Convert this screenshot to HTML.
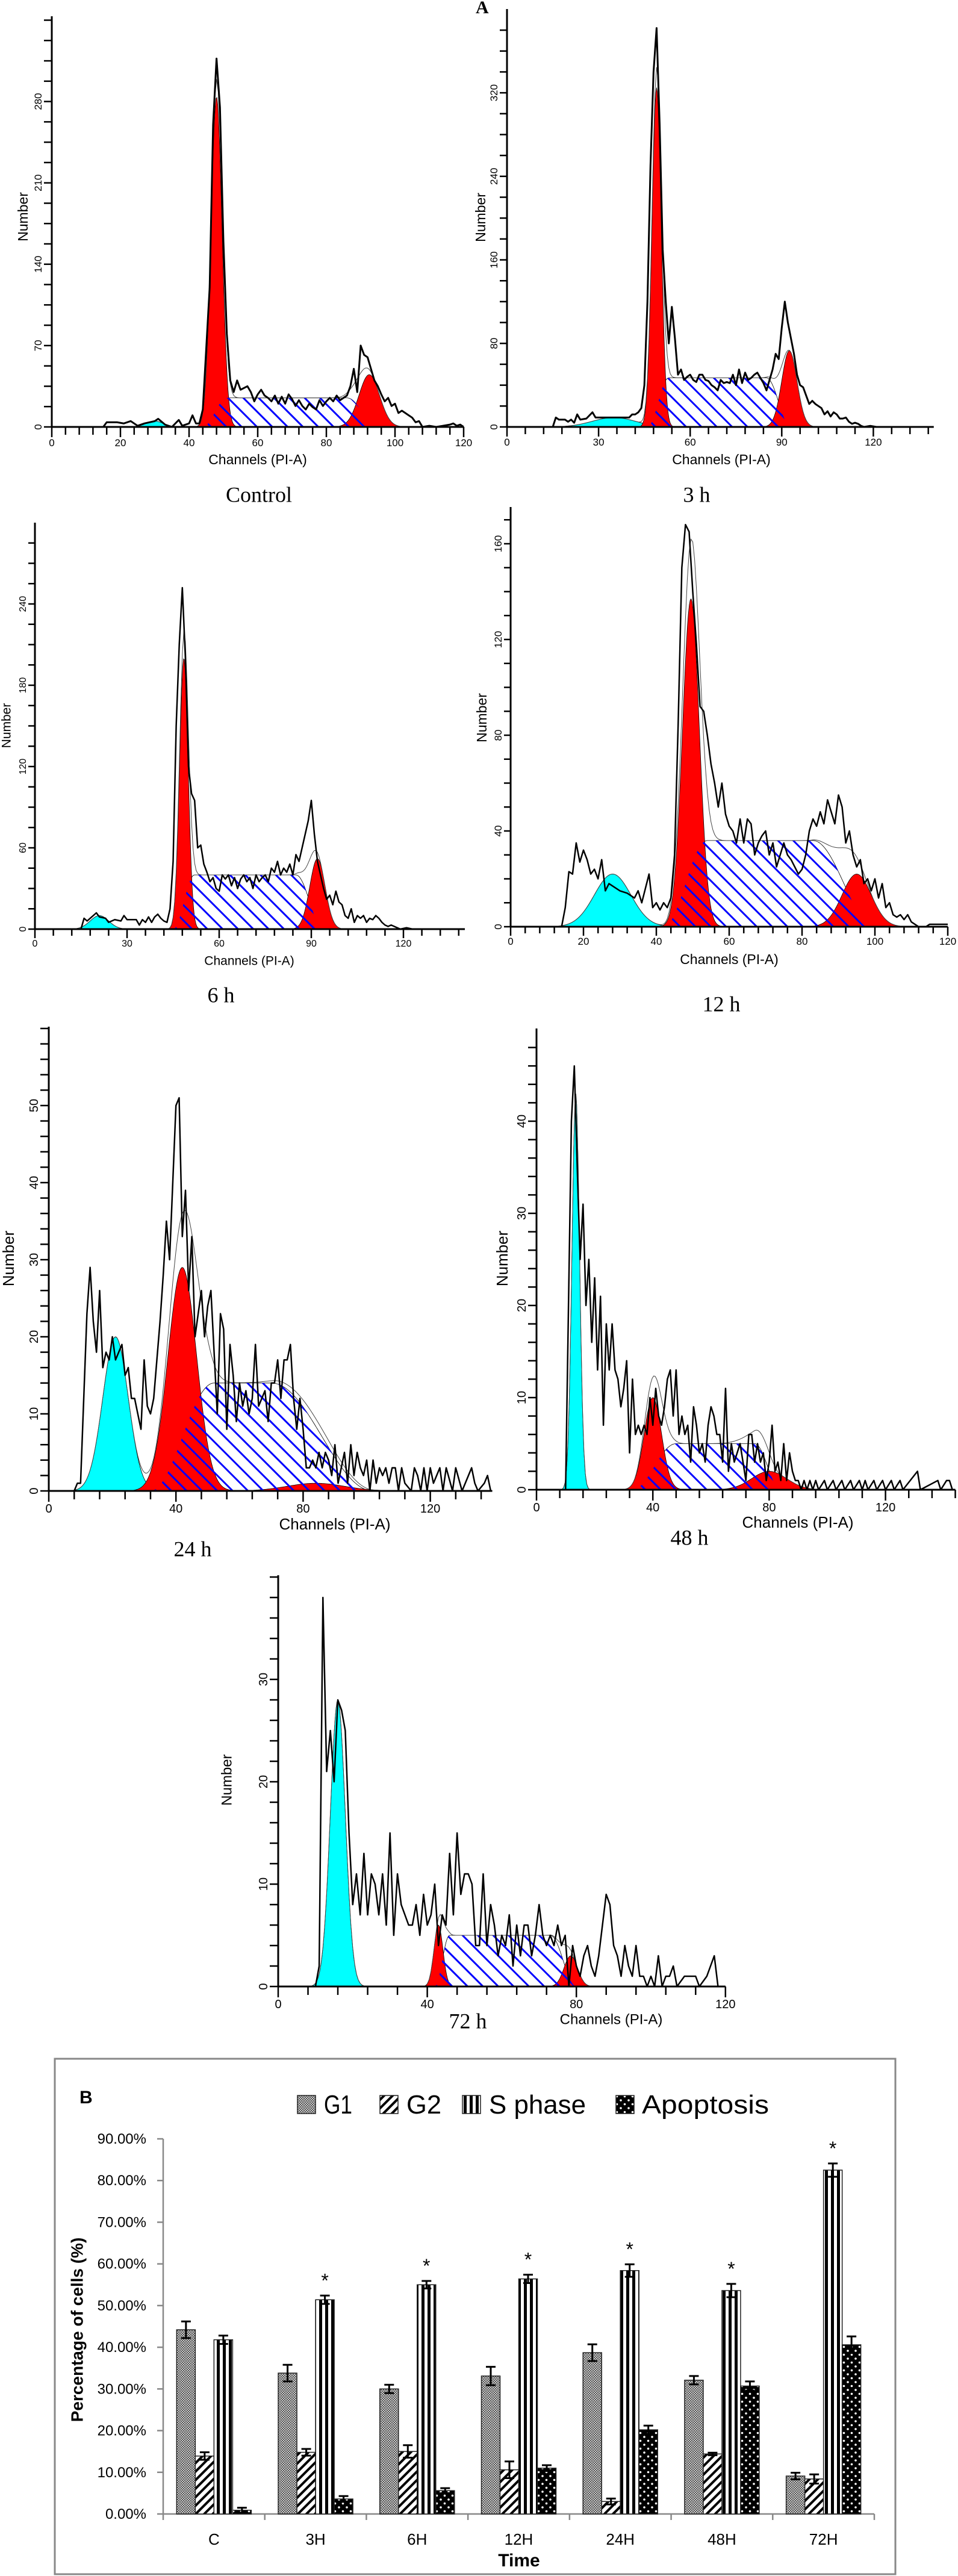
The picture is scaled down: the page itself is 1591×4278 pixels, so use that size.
<!DOCTYPE html>
<html><head><meta charset="utf-8"><style>
html,body{margin:0;padding:0;background:#fff}
svg{display:block}
</style></head><body>
<svg id="fig" xmlns="http://www.w3.org/2000/svg" width="1591" height="4278" viewBox="0 0 1591 4278">
<defs>
<pattern id="hatch" patternUnits="userSpaceOnUse" width="18" height="18" patternTransform="rotate(45)"><rect x="0" y="0" width="18" height="3" fill="#0000ff"/></pattern>
<pattern id="pG1" patternUnits="userSpaceOnUse" width="4" height="4"><rect width="4" height="4" fill="#c8c8c8"/><rect width="2" height="2" fill="#555"/><rect x="2" y="2" width="2" height="2" fill="#555"/></pattern>
<pattern id="pG2" patternUnits="userSpaceOnUse" width="10" height="10" patternTransform="rotate(45)"><rect width="10" height="10" fill="#fff"/><rect width="4" height="10" fill="#000"/></pattern>
<pattern id="pS" patternUnits="userSpaceOnUse" width="10" height="10"><rect width="10" height="10" fill="#fff"/><rect width="5" height="10" fill="#000"/></pattern>
<pattern id="pA" patternUnits="userSpaceOnUse" width="13" height="13"><rect width="13" height="13" fill="#000"/><circle cx="4" cy="4" r="1.8" fill="#fff"/><circle cx="10.5" cy="10.5" r="1.8" fill="#fff"/></pattern>
</defs>
<text x="790" y="22" font-family="Liberation Serif, serif" font-weight="bold" font-size="30">A</text>
</svg>
<script>
// ---------- Histogram data (channel, count) ----------
const ctrlLine=[[15,0],[16,4],[19,4],[21,3],[23,5],[25,1],[27,3],[30,5],[31,7],[33,2],[35,0],[37,6],[38,1],[40,3],[41,10],[42,3],[43,3],[44,15],[46,120],[47,260],[48,317],[49,275],[50,160],[51,80],[52,40],[53,30],[54,40],[55,32],[57,35],[58,30],[59,22],[60,28],[61,32],[62,27],[63,25],[64,22],[65,27],[66,20],[67,26],[68,20],[69,28],[70,24],[71,18],[72,23],[73,18],[74,15],[75,20],[76,17],[77,15],[78,23],[79,18],[80,22],[81,25],[82,22],[83,27],[84,23],[85,25],[86,27],[87,35],[88,50],[89,30],[90,70],[91,62],[92,60],[93,50],[94,40],[95,35],[96,28],[97,22],[98,25],[99,18],[100,20],[101,12],[102,14],[103,12],[104,10],[105,8],[106,4],[107,5],[108,0],[110,1],[112,0],[114,1],[116,2],[117,3],[118,1],[119,2],[120,0]];
const h3Line=[[15,0],[16,9],[17,7],[19,7],[20,5],[21,7],[22,4],[23,12],[24,7],[26,8],[28,14],[29,9],[31,9],[35,9],[40,9],[41,12],[42,12],[43,14],[44,18],[45,40],[46,120],[47,250],[48,340],[49,382],[50,290],[51,170],[52,120],[53,80],[54,115],[55,85],[56,50],[57,55],[58,45],[59,48],[60,50],[61,45],[62,43],[63,50],[64,50],[65,45],[66,44],[67,40],[68,38],[69,35],[70,45],[71,42],[72,43],[73,42],[74,50],[75,40],[76,55],[77,42],[78,52],[79,45],[80,47],[81,50],[82,52],[83,47],[84,42],[85,35],[86,45],[87,55],[88,70],[89,65],[90,95],[91,120],[92,100],[93,85],[94,70],[95,50],[96,40],[97,38],[98,30],[99,22],[100,25],[101,22],[102,20],[103,18],[104,12],[105,15],[106,10],[107,14],[108,12],[109,8],[110,8],[111,9],[112,5],[113,3],[114,4],[115,3],[116,1],[117,0],[119,1],[121,0]];
const h6Line=[[15,0],[16,8],[17,6],[19,10],[20,12],[21,9],[23,8],[24,5],[26,7],[28,6],[29,10],[30,7],[31,7],[33,7],[34,3],[35,7],[36,5],[37,9],[38,5],[39,9],[40,11],[41,8],[42,6],[43,5],[44,15],[45,50],[46,150],[47,210],[48,252],[49,200],[50,120],[51,100],[52,95],[53,60],[54,62],[55,48],[56,42],[57,35],[58,38],[59,30],[60,28],[61,40],[62,37],[63,40],[64,32],[65,38],[66,30],[67,37],[68,40],[69,35],[70,38],[71,30],[72,40],[73,35],[74,38],[75,40],[76,35],[77,45],[78,42],[79,50],[80,40],[81,45],[82,42],[83,48],[84,40],[85,55],[86,50],[87,60],[88,70],[89,80],[90,95],[91,70],[92,50],[93,40],[94,30],[95,22],[96,25],[97,18],[98,28],[99,20],[100,18],[101,10],[102,8],[103,15],[104,5],[105,10],[106,8],[107,10],[108,5],[109,8],[110,7],[111,10],[112,8],[113,5],[114,3],[115,2],[116,3],[117,2],[118,1],[119,0],[121,1],[123,0]];
const h12Line=[[10,0],[14,0],[15,8],[16,23],[17,22],[18,35],[19,27],[20,32],[21,28],[22,22],[23,24],[24,20],[25,28],[26,15],[27,18],[28,17],[30,15],[32,14],[34,12],[35,15],[36,10],[37,16],[38,22],[39,8],[40,10],[41,7],[42,10],[43,8],[44,12],[45,30],[46,85],[47,150],[48,168],[49,165],[50,140],[51,118],[52,92],[53,90],[54,80],[55,68],[56,60],[57,50],[58,60],[59,47],[60,42],[61,40],[62,35],[63,45],[64,35],[65,45],[66,43],[67,30],[68,35],[69,38],[70,40],[71,30],[72,35],[73,25],[74,30],[75,35],[76,30],[77,28],[78,25],[79,22],[80,24],[81,30],[82,40],[83,45],[84,42],[85,48],[86,43],[87,53],[88,48],[89,43],[90,55],[91,50],[92,35],[93,40],[94,30],[95,25],[96,28],[97,18],[98,20],[99,15],[100,20],[101,12],[102,18],[103,8],[104,10],[105,5],[106,4],[107,5],[108,3],[109,5],[110,2],[111,1],[112,0],[114,0],[115,1],[120,1]];
const h24Line=[[0,0],[8,0],[9,1],[10,1],[12,23],[13,29],[14,22],[15,18],[16,26],[17,16],[18,18],[19,17],[20,20],[21,17],[22,18],[23,19],[24,15],[25,16],[26,12],[27,12],[28,10],[29,8],[30,17],[31,11],[32,10],[33,12],[34,17],[35,22],[36,28],[37,35],[38,30],[39,40],[40,50],[41,51],[42,33],[43,39],[44,26],[45,33],[46,20],[47,23],[48,26],[49,20],[50,24],[51,26],[52,18],[53,10],[54,23],[55,21],[56,8],[57,19],[58,15],[59,9],[60,14],[61,11],[62,13],[63,10],[64,12],[65,19],[66,11],[67,12],[68,13],[69,9],[70,14],[71,14],[72,17],[73,12],[74,17],[75,17],[76,19],[77,12],[78,8],[79,12],[80,8],[81,3],[82,3],[83,4],[84,3],[85,5],[86,3],[87,5],[88,4],[89,2],[90,6],[91,1],[92,3],[93,5],[94,1],[95,6],[96,2],[97,5],[98,3],[99,2],[100,4],[101,0],[102,4],[103,1],[104,3],[105,2],[106,3],[107,1],[108,3],[109,3],[110,0],[111,3],[112,1],[114,0],[115,3],[116,2],[117,0],[118,3],[119,0],[120,3],[121,1],[123,3],[124,0],[125,3],[127,0],[128,3],[130,0],[133,3],[134,1],[135,0],[137,1],[138,2],[139,0]];
const h48Line=[[0,0],[10,0],[11,20],[12,40],[13,46],[14,35],[15,25],[16,31],[17,20],[18,25],[19,16],[20,23],[21,13],[22,21],[23,7],[24,18],[25,13],[26,18],[27,13],[28,12],[29,9],[30,11],[31,14],[32,4],[33,12],[34,6],[35,7],[36,6],[37,7],[38,6],[39,10],[40,7],[41,11],[42,8],[43,7],[44,9],[45,12],[46,13],[47,8],[48,13],[49,6],[50,8],[51,6],[52,7],[53,3],[54,9],[55,7],[56,4],[57,5],[58,3],[59,7],[60,9],[61,8],[62,6],[63,6],[64,3],[65,11],[66,2],[67,5],[68,3],[69,4],[70,5],[71,3],[72,1],[73,6],[74,6],[75,3],[76,5],[77,3],[78,4],[79,1],[80,3],[81,7],[82,2],[83,3],[84,1],[85,5],[86,1],[87,4],[88,2],[89,1],[90,1],[91,0],[92,1],[93,0],[94,1],[95,0],[96,1],[97,0],[99,1],[100,0],[102,1],[103,0],[105,1],[106,0],[108,1],[109,0],[111,1],[112,0],[113,1],[114,0],[116,1],[117,0],[119,1],[120,0],[122,1],[123,0],[125,1],[126,0],[131,2],[132,0],[138,1],[139,0],[141,1],[142,1],[143,0]];
const h72Line=[[10,0],[11,2],[12,38],[13,21],[14,25],[15,20],[16,28],[17,27],[18,25],[19,15],[20,8],[21,11],[22,7],[23,13],[24,7],[25,11],[26,10],[27,7],[28,11],[29,6],[30,15],[31,5],[32,11],[33,8],[34,7],[35,6],[36,6],[37,8],[38,5],[39,9],[40,6],[41,7],[42,10],[43,4],[44,7],[45,6],[46,13],[47,7],[48,15],[49,9],[50,11],[51,11],[52,10],[53,4],[54,4],[55,11],[56,4],[57,8],[58,6],[59,3],[60,5],[61,4],[62,7],[63,2],[64,6],[65,3],[66,6],[67,6],[68,3],[69,5],[70,8],[71,5],[72,4],[73,5],[74,4],[75,6],[76,4],[77,5],[78,0],[79,4],[80,2],[81,1],[82,3],[83,4],[84,2],[85,1],[86,3],[87,6],[88,9],[89,8],[90,4],[91,3],[92,1],[93,4],[94,2],[95,1],[96,4],[97,1],[98,1],[99,0],[100,1],[101,0],[102,3],[103,0],[104,1],[105,1],[106,2],[107,0],[109,1],[112,1],[113,0],[115,1],[116,2],[117,3],[118,0]];
// components: apoptosis [mu, sd, height], G1 [mu, sd, height], S [start, plateauStart, plateauEnd, end, height], G2 [mu, sd, height]
const ctrlApo=[30,2.5,5], ctrlG1=[48,1.6,284], ctrlS=[44,51,86,95,25], ctrlG2=[92.5,3,45];
const h3Apo=[35,7,9], h3G1=[49,1.5,325], h3S=[46,53,85,93,47], h3G2=[92.5,2.5,73];
const h6Apo=[21,3,10], h6G1=[48.5,1.4,200], h6S=[45,52,85,94,40], h6G2=[92,2.5,52];
const h12Apo=[28,5,22], h12G1=[49.5,2.3,137], h12S=[42,54,83,100,36], h12G2=[95,4,22];
const h24Apo=[21,4,20], h24G1=[42,4.5,29], h24S=[32,52,70,102,14], h24G2=[84,9,1];
const h48Apo=[13.5,1.3,43], h48G1=[40,3,10], h48S=[33,48,75,84,5], h48G2=[80,6,2];
const h72Apo=[16,2,28], h72G1=[43,1.2,6], h72S=[42,46,73,80,5], h72G2=[78.5,1.8,3];

// ---------- Bar chart data ----------
const categories=["C","3H","6H","12H","24H","48H","72H"];
const seriesNames=["G1","G2","S phase","Apoptosis"];
const g1Vals=[44.2,33.8,30.0,33.1,38.7,32.1,9.1];
const g2Vals=[13.9,14.8,15.0,10.6,3.0,14.4,8.4];
const sVals=[41.8,51.4,55.0,56.4,58.4,53.6,82.5];
const apoVals=[0.9,3.6,5.6,11.0,20.2,30.7,40.6];
const g1Err=[2.0,2.0,1.0,2.2,2.0,1.0,0.8];
const g2Err=[0.9,0.8,1.5,2.0,0.7,0.3,1.1];
const sErr=[1.0,1.0,0.9,1.0,1.5,1.6,1.6];
const apoErr=[0.6,0.7,0.6,0.7,1.0,1.1,2.0];
const starred=[false,true,true,true,true,true,true];
const yTickVals=[0,10,20,30,40,50,60,70,80,90];

const NS="http://www.w3.org/2000/svg";
const svg=document.getElementById('fig');
function mk(tag,attrs,parent){const e=document.createElementNS(NS,tag);for(const k in attrs)e.setAttribute(k,attrs[k]);(parent||svg).appendChild(e);return e;}

function gauss(p,c){return p[2]*Math.exp(-((c-p[0])**2)/(2*p[1]*p[1]));}
function sVal(p,c){if(c<=p[0]||c>=p[3])return 0;if(c<p[1]){const t=(c-p[0])/(p[1]-p[0]);return p[4]*(0.5-0.5*Math.cos(Math.PI*t));}if(c<=p[2])return p[4];const t=(c-p[2])/(p[3]-p[2]);return p[4]*(0.5+0.5*Math.cos(Math.PI*t));}

function histogram(cfg,line,apo,g1,s,g2){
  const g=mk('g',{});
  
  
  const X=c=>cfg.ox+c*cfg.sx, Y=v=>cfg.oy-v*cfg.sy;
  function gPoly(p,fill,nm){let pts=[];const a=Math.max(0,p[0]-4*p[1]),b=p[0]+4*p[1];pts.push(X(a)+','+Y(0));for(let c=a;c<=b;c+=0.25)pts.push(X(c)+','+Y(gauss(p,c)));pts.push(X(b)+','+Y(0));const e=mk('polygon',{points:pts.join(' '),fill:fill,stroke:'#000','stroke-width':0.8},g);return e;}
  function sPts(){let pts=[];for(let c=s[0];c<=s[3];c+=0.25)pts.push(X(c)+','+Y(sVal(s,c)));return pts.join(' ');}
  gPoly(apo,'#00ffff','apoptosis-peak');
  const sw=mk('polygon',{points:sPts(),fill:'#fff',stroke:'#000','stroke-width':0.8},g);
  
  
  gPoly(g1,'#ff0000','g1-peak');
  gPoly(g2,'#ff0000','g2-peak');
  const sh=mk('polygon',{points:sPts(),fill:'url(#hatch)',stroke:'none'},g);
  
  
  // model fit line
  let mp=[];for(let c=Math.max(0,apo[0]-4*apo[1]);c<=g2[0]+4*g2[1];c+=0.5){mp.push(X(c)+','+Y(gauss(apo,c)+gauss(g1,c)+sVal(s,c)+gauss(g2,c)));}
  const ml=mk('polyline',{points:mp.join(' '),fill:'none',stroke:'#444','stroke-width':1},g);
  
  
  const dl=mk('polyline',{points:line.filter(p=>p[0]<=cfg.xEnd).map(p=>X(p[0])+','+Y(p[1])).join(' '),fill:'none',stroke:'#000','stroke-width':cfg.lw,'stroke-linejoin':'round'},g);
  
  
  // axes
  const xa=mk('line',{x1:cfg.ox,y1:cfg.oy,x2:X(cfg.xEnd),y2:cfg.oy,stroke:'#000','stroke-width':3},g);
  
  
  const ya=mk('line',{x1:cfg.ox,y1:cfg.oy,x2:cfg.ox,y2:cfg.yTop,stroke:'#000','stroke-width':3},g);
  
  
  for(let c=0;c<=cfg.xEnd+0.01;c+=cfg.xMinor){mk('line',{x1:X(c),y1:cfg.oy,x2:X(c),y2:cfg.oy+(cfg.xLabels.includes(c)?cfg.tk+4:cfg.tk),stroke:'#000','stroke-width':2.5},g);}
  cfg.xLabels.forEach(c=>{const t=mk('text',{x:X(c),y:cfg.oy+cfg.tk+cfg.fs+2,'text-anchor':'middle','font-family':'Liberation Sans, sans-serif','font-size':cfg.fs},g);t.textContent=c;});
  for(let v=0;Y(v)>=cfg.yTop+2;v+=cfg.yMinor){mk('line',{x1:cfg.ox-cfg.tk,y1:Y(v),x2:cfg.ox,y2:Y(v),stroke:'#000','stroke-width':2.5},g);}
  cfg.yLabels.forEach(v=>{const x=cfg.ox-cfg.tk-4,y=Y(v);const t=mk('text',{x:x,y:y,'text-anchor':'middle','font-family':'Liberation Sans, sans-serif','font-size':cfg.fs,transform:`rotate(-90 ${x} ${y})`},g);t.textContent=v;});
  const nl=mk('text',{x:cfg.num[0],y:cfg.num[1],'text-anchor':'middle','font-family':'Liberation Sans, sans-serif','font-size':cfg.lfs,transform:`rotate(-90 ${cfg.num[0]} ${cfg.num[1]})`,'dominant-baseline':'middle'},g);
  nl.textContent='Number';
  
  
  const cl=mk('text',{x:cfg.ch[0],y:cfg.ch[1],'text-anchor':'middle','font-family':'Liberation Sans, sans-serif','font-size':cfg.lfs,'dominant-baseline':'middle'},g);
  cl.textContent='Channels (PI-A)';
  
  
  const pl=mk('text',{x:cfg.lab[0],y:cfg.lab[1],'text-anchor':'middle','font-family':'Liberation Serif, serif','font-size':36,'dominant-baseline':'middle'},g);
  pl.textContent=cfg.label;
  
  
}

histogram({name:'histogram-control',ox:86,oy:709,sx:5.7,sy:1.93,xEnd:120,yTop:27,xLabels:[0,20,40,60,80,100,120],xMinor:4,yLabels:[0,70,140,210,280],yMinor:17.5,fs:17,lfs:23,tk:13,lw:3,num:[40,360],ch:[428,765],lab:[430,825],label:'Control'},ctrlLine,ctrlApo,ctrlG1,ctrlS,ctrlG2);
histogram({name:'histogram-3h',ox:842,oy:709,sx:5.07,sy:1.734,xEnd:139.8,yTop:15,xLabels:[0,30,60,90,120],xMinor:6,yLabels:[0,80,160,240,320],yMinor:20,fs:17,lfs:23,tk:12,lw:3,num:[800,361],ch:[1198,765],lab:[1157,825],label:'3 h'},h3Line,h3Apo,h3G1,h3S,h3G2);
histogram({name:'histogram-6h',ox:58,oy:1543,sx:5.1,sy:2.25,xEnd:140,yTop:868,xLabels:[0,30,60,90,120],xMinor:6,yLabels:[0,60,120,180,240],yMinor:15,fs:16,lfs:21,tk:11,lw:2.5,num:[12,1205],ch:[414,1597],lab:[367,1656],label:'6 h'},h6Line,h6Apo,h6G1,h6S,h6G2);
histogram({name:'histogram-12h',ox:848,oy:1539,sx:6.05,sy:3.975,xEnd:120,yTop:842,xLabels:[0,20,40,60,80,100,120],xMinor:4,yLabels:[0,40,80,120,160],yMinor:10,fs:17,lfs:23,tk:11,lw:2.5,num:[802,1192],ch:[1211,1595],lab:[1198,1671],label:'12 h'},h12Line,h12Apo,h12G1,h12S,h12G2);
histogram({name:'histogram-24h',ox:81,oy:2476,sx:5.28,sy:12.8,xEnd:139.5,yTop:1705,xLabels:[0,40,80,120],xMinor:8,yLabels:[0,10,20,30,40,50],yMinor:2,fs:20,lfs:26,tk:14,lw:2.5,num:[16,2090],ch:[556,2533],lab:[320,2576],label:'24 h'},h24Line,h24Apo,h24G1,h24S,h24G2);
histogram({name:'histogram-48h',ox:891,oy:2474,sx:4.83,sy:15.3,xEnd:144,yTop:1708,xLabels:[0,40,80,120],xMinor:8,yLabels:[0,10,20,30,40],yMinor:2,fs:20,lfs:26,tk:14,lw:2.5,num:[836,2090],ch:[1325,2530],lab:[1145,2557],label:'48 h'},h48Line,h48Apo,h48G1,h48S,h48G2);
histogram({name:'histogram-72h',ox:462,oy:3299,sx:6.19,sy:17,xEnd:120,yTop:2616,xLabels:[0,40,80,120],xMinor:8,yLabels:[0,10,20,30],yMinor:2,fs:20,lfs:24,tk:14,lw:2.5,num:[378,2956],ch:[1015,3355],lab:[777,3360],label:'72 h'},h72Line,h72Apo,h72G1,h72S,h72G2);

// ---------- Bar chart ----------
(function(){
  const g=mk('g',{});
  
  
  const box=mk('rect',{x:91,y:3419,width:1396,height:856,fill:'#fff',stroke:'#888','stroke-width':3},g);
  
  
  const ax0=271, ax1=1452, y0=4175, ppu=6.922;
  const Y=v=>y0-v*ppu;
  const catW=(ax1-ax0)/categories.length;
  const CX=i=>ax0+catW*(i+0.5);
  const bl=mk('text',{x:132,y:3493,'font-family':'Liberation Sans, sans-serif','font-weight':'bold','font-size':30},g);
  bl.textContent='B';
  
  
  // y axis
  const ya=mk('line',{x1:ax0,y1:y0,x2:ax0,y2:Y(90),stroke:'#888','stroke-width':2.5},g);
  
  
  yTickVals.forEach(v=>{mk('line',{x1:ax0-10,y1:Y(v),x2:ax0,y2:Y(v),stroke:'#888','stroke-width':2.5},g);
    const t=mk('text',{x:ax0-28,y:Y(v)+8,'text-anchor':'end','font-family':'Liberation Sans Narrow, Liberation Sans, sans-serif','font-size':24},g);
    t.textContent=v.toFixed(2)+'%';
    
    });
  const xa=mk('line',{x1:ax0,y1:y0,x2:ax1,y2:y0,stroke:'#888','stroke-width':2.5},g);
  
  
  for(let i=0;i<=categories.length;i++)mk('line',{x1:ax0+catW*i,y1:y0,x2:ax0+catW*i,y2:y0+10,stroke:'#888','stroke-width':2.5},g);
  categories.forEach((c,i)=>{const t=mk('text',{x:CX(i),y:4226,'text-anchor':'middle','font-family':'Liberation Sans Narrow, Liberation Sans, sans-serif','font-size':26},g);t.textContent=c;});
  const tt=mk('text',{x:862,y:4262,'text-anchor':'middle','font-family':'Liberation Sans Narrow, Liberation Sans, sans-serif','font-weight':'bold','font-size':30},g);
  tt.textContent='Time';
  
  
  const yt=mk('text',{x:130,y:3869,'text-anchor':'middle','font-family':'Liberation Sans, sans-serif','font-weight':'bold','font-size':28,transform:'rotate(-90 130 3869)','dominant-baseline':'middle'},g);
  yt.textContent='Percentage of cells (%)';
  
  
  const vals=[g1Vals,g2Vals,sVals,apoVals], errs=[g1Err,g2Err,sErr,apoErr], fills=['url(#pG1)','url(#pG2)','url(#pS)','url(#pA)'];
  const bw=31;
  categories.forEach((c,i)=>{
    vals.forEach((arr,k)=>{
      const x=CX(i)+(k-2)*bw, v=arr[i];
      const r=mk('rect',{x:x,y:Y(v),width:bw,height:v*ppu,fill:fills[k],stroke:'#222','stroke-width':1.5},g);
      
      
      const e=errs[k][i], xc=x+bw/2;
      const eb=mk('path',{d:`M${xc-8},${Y(v+e)}H${xc+8}M${xc},${Y(v+e)}V${Y(v-e)}M${xc-8},${Y(v-e)}H${xc+8}`,stroke:'#000','stroke-width':3,fill:'none'},g);
      
      
      if(k===2&&starred[i]){const st=mk('text',{x:xc,y:Y(v+e)-14,'text-anchor':'middle','font-family':'Liberation Sans, sans-serif','font-size':32},g);st.textContent='*';}
    });
  });
  // legend
  const lx=[494,631,768,1023], tx=[538,675,812,1066], tw=[47,58,161,211];
  seriesNames.forEach((n,k)=>{
    const sq=mk('rect',{x:lx[k],y:3480,width:30,height:30,fill:fills[k],stroke:'#222','stroke-width':1.5},g);
    
    
    const t=mk('text',{x:tx[k],y:3510,'font-family':'Liberation Sans Narrow, Liberation Sans, sans-serif','font-size':44,textLength:tw[k],lengthAdjust:'spacingAndGlyphs'},g);
    t.textContent=n;
    
    
  });
})();
</script>
</body></html>
